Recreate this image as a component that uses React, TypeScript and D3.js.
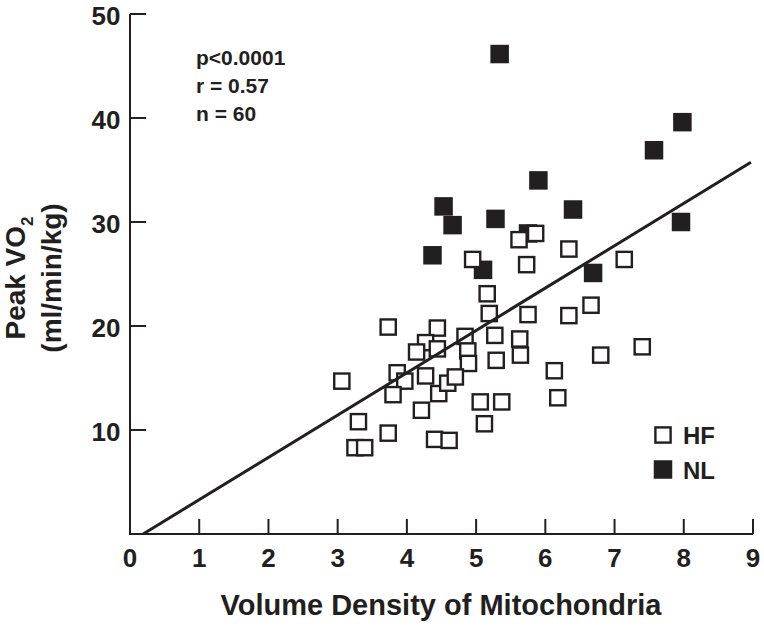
import React from "react";
import * as d3 from "d3";

const hfX = [3.06, 3.30, 3.25, 3.39, 3.73, 4.44, 4.27, 4.14, 4.44, 4.84, 4.88, 4.89, 3.86, 3.97, 3.80, 4.27, 4.21, 4.46, 4.59, 4.70, 3.73, 4.40, 4.61, 5.06, 5.37, 5.12, 5.62, 5.86, 4.95, 6.34, 5.73, 7.14, 5.16, 5.19, 5.75, 6.34, 6.66, 5.27, 5.63, 5.29, 5.64, 6.13, 6.18, 6.80, 7.40];
const hfY = [14.7, 10.8, 8.3, 8.3, 19.9, 19.8, 18.4, 17.5, 17.8, 19.0, 17.6, 16.4, 15.5, 14.7, 13.4, 15.2, 11.9, 13.5, 14.5, 15.1, 9.7, 9.1, 9.0, 12.7, 12.7, 10.6, 28.3, 28.9, 26.4, 27.4, 25.9, 26.4, 23.1, 21.2, 21.1, 21.0, 22.0, 19.1, 18.75, 16.7, 17.2, 15.7, 13.1, 17.2, 18.0];

const nlX = [5.34, 7.98, 7.57, 5.90, 4.53, 4.66, 5.28, 6.40, 7.96, 4.37, 5.10, 6.69, 5.75];
const nlY = [46.15, 39.6, 36.9, 34.0, 31.5, 29.7, 30.3, 31.2, 30.0, 26.8, 25.4, 25.1, 28.9];

const xTicks = [0, 1, 2, 3, 4, 5, 6, 7, 8, 9];
const yTicks = [10, 20, 30, 40, 50];

const fitSlope = 4.07;
const fitIntercept = -0.77;
const fitXRange = [0.19, 8.97];

const statsLines = ["p<0.0001", "r = 0.57", "n = 60"];
const legendLabels = ["HF", "NL"];

const INK = "#231f20";
const FONT = "'Liberation Sans', Arial, Helvetica, sans-serif";

export default function App() {
  const x = d3.scaleLinear().domain([0, 9]).range([130, 753]);
  const y = d3.scaleLinear().domain([0, 50]).range([534, 14]);

  const fitPts: [number, number][] = fitXRange.map((v) => [v, fitSlope * v + fitIntercept]);
  const line = d3
    .line<[number, number]>()
    .x((d) => x(d[0]))
    .y((d) => y(d[1]));

  const hf = hfX.map((v, i) => ({ x: v, y: hfY[i] }));
  const nl = nlX.map((v, i) => ({ x: v, y: nlY[i] }));

  const openSize = 15.2;
  const fillSize = 18.5;

  return (
    <svg
      width={764}
      height={626}
      style={{ position: "absolute", left: 0, top: 0, background: "#fff" }}
      fontFamily={FONT}
    >
      <rect x={0} y={0} width={764} height={626} fill="#fff" />
      {/* axes */}
      <line x1={x(0)} x2={x(0)} y1={y(50)} y2={y(0)} stroke={INK} strokeWidth={2} />
      <line x1={x(0) - 1} x2={x(9)} y1={y(0)} y2={y(0)} stroke={INK} strokeWidth={2} />
      {yTicks.map((t) => (
        <g key={"yt" + t}>
          <line x1={x(0)} x2={x(0) + 16} y1={y(t)} y2={y(t)} stroke={INK} strokeWidth={2} />
          <text
            x={x(0) - 9.5}
            y={y(t) + 11}
            textAnchor="end"
            fontSize={26}
            fontWeight="bold"
            fill={INK}
          >
            {t}
          </text>
        </g>
      ))}
      {xTicks.map((t) => (
        <g key={"xt" + t}>
          {t > 0 && (
            <line x1={x(t)} x2={x(t)} y1={y(0)} y2={y(0) - 15} stroke={INK} strokeWidth={2} />
          )}
          <text
            x={x(t)}
            y={y(0) + 33}
            textAnchor="middle"
            fontSize={26}
            fontWeight="bold"
            fill={INK}
          >
            {t}
          </text>
        </g>
      ))}

      {/* axis titles */}
      <text x={441} y={615} textAnchor="middle" fontSize={29} fontWeight="bold" fill={INK}>
        Volume Density of Mitochondria
      </text>
      <text
        transform="translate(25,278) rotate(-90)"
        textAnchor="middle"
        fontSize={28}
        fontWeight="bold"
        fill={INK}
      >
        Peak VO
        <tspan fontSize={17} dy={8}>
          2
        </tspan>
      </text>
      <text
        transform="translate(61,278) rotate(-90)"
        textAnchor="middle"
        fontSize={28}
        fontWeight="bold"
        fill={INK}
      >
        (ml/min/kg)
      </text>

      {/* stats */}
      {statsLines.map((s, i) => (
        <text key={s} x={196} y={65 + i * 28} fontSize={21} fontWeight="bold" fill={INK}>
          {s}
        </text>
      ))}

      {/* NL filled squares */}
      {nl.map((d, i) => (
        <rect
          key={"nl" + i}
          x={x(d.x) - fillSize / 2}
          y={y(d.y) - fillSize / 2}
          width={fillSize}
          height={fillSize}
          fill={INK}
        />
      ))}
      {/* HF open squares */}
      {hf.map((d, i) => (
        <rect
          key={"hf" + i}
          x={x(d.x) - openSize / 2}
          y={y(d.y) - openSize / 2}
          width={openSize}
          height={openSize}
          fill="#fff"
          stroke={INK}
          strokeWidth={2.4}
        />
      ))}

      {/* regression line */}
      <path d={line(fitPts) || ""} fill="none" stroke={INK} strokeWidth={3} />

      {/* legend */}
      <rect x={663 - openSize / 2} y={435 - openSize / 2} width={openSize} height={openSize} fill="#fff" stroke={INK} strokeWidth={2.4} />
      <rect x={663 - fillSize / 2} y={469.5 - fillSize / 2} width={fillSize} height={fillSize} fill={INK} />
      {legendLabels.map((l, i) => (
        <text key={l} x={683} y={444 + i * 35} fontSize={24} fontWeight="bold" fill={INK}>
          {l}
        </text>
      ))}
    </svg>
  );
}
